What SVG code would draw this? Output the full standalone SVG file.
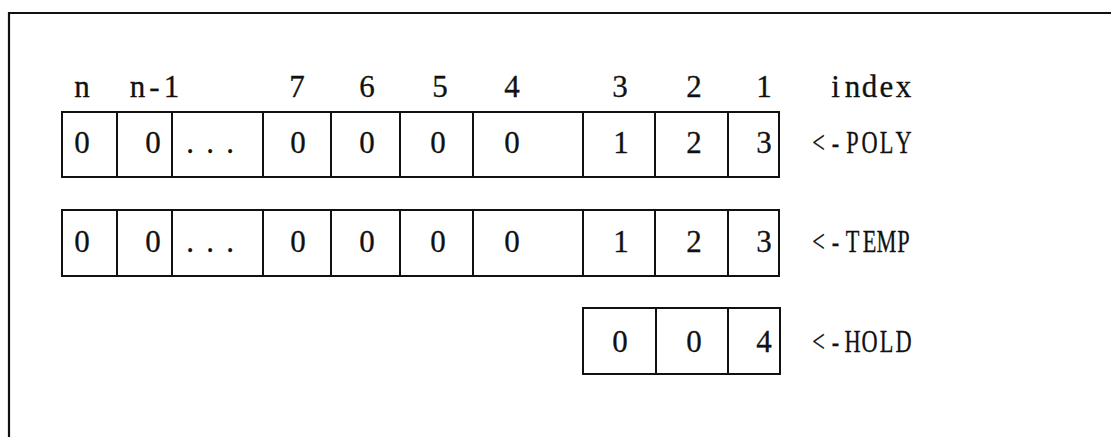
<svg xmlns="http://www.w3.org/2000/svg" width="1111" height="437" viewBox="0 0 1111 437">
<style>
.frame{fill:none;stroke:#111;stroke-width:2.2}
.cell{fill:none;stroke:#111;stroke-width:2}
.t{font-family:"Liberation Serif","Times New Roman",serif;font-size:31px;fill:#111;text-anchor:middle;stroke:#111;stroke-width:0.3}
</style>
<rect width="1111" height="437" fill="#fff"/>
<g id="frame">
<path class="frame" d="M9,437 L9,13 L1111,13"/>
</g>
<g id="index-row">
<text class="t" x="82" y="97">n</text>
<text class="t" x="137.5 154.5 171.5" y="97">n-1</text>
<text class="t" x="297" y="97">7</text>
<text class="t" x="367" y="97">6</text>
<text class="t" x="440" y="97">5</text>
<text class="t" x="512" y="97">4</text>
<text class="t" x="620" y="97">3</text>
<text class="t" x="694" y="97">2</text>
<text class="t" x="764" y="97">1</text>
<text class="t" x="835.5 852.5 869.5 886.5 903.5" y="97">index</text>
</g>
<g id="poly">
<rect class="cell" x="62" y="112" width="717" height="65"/>
<path class="cell" d="M117,112V177M172,112V177M263,112V177M331,112V177M400,112V177M473,112V177M583,112V177M655,112V177M728,112V177"/>
<text class="t" x="82" y="153">0</text>
<text class="t" x="153" y="153">0</text>
<text class="t" x="190 210 230" y="153">...</text>
<text class="t" x="298" y="153">0</text>
<text class="t" x="367" y="153">0</text>
<text class="t" x="438" y="153">0</text>
<text class="t" x="512" y="153">0</text>
<text class="t" x="621" y="153">1</text>
<text class="t" x="694" y="153">2</text>
<text class="t" x="764" y="153">3</text>
<text class="t" transform="scale(0.72,1)" x="1136.8 1160.4 1184 1207.6 1231.3 1254.9" y="153">&lt;-POLY</text>
</g>
<g id="temp">
<rect class="cell" x="62" y="210" width="717" height="66"/>
<path class="cell" d="M117,210V276M172,210V276M263,210V276M331,210V276M400,210V276M473,210V276M583,210V276M655,210V276M728,210V276"/>
<text class="t" x="82" y="252">0</text>
<text class="t" x="153" y="252">0</text>
<text class="t" x="190 210 230" y="252">...</text>
<text class="t" x="298" y="252">0</text>
<text class="t" x="367" y="252">0</text>
<text class="t" x="438" y="252">0</text>
<text class="t" x="512" y="252">0</text>
<text class="t" x="621" y="252">1</text>
<text class="t" x="694" y="252">2</text>
<text class="t" x="764" y="252">3</text>
<text class="t" transform="scale(0.72,1)" x="1136.8 1160.4 1184 1207.6 1231.3 1254.9" y="252">&lt;-TEMP</text>
</g>
<g id="hold">
<rect class="cell" x="583" y="308" width="197" height="66"/>
<path class="cell" d="M656,308V374M728,308V374"/>
<text class="t" x="620" y="352">0</text>
<text class="t" x="694" y="352">0</text>
<text class="t" x="764" y="352">4</text>
<text class="t" transform="scale(0.72,1)" x="1136.8 1160.4 1184 1207.6 1231.3 1254.9" y="352">&lt;-HOLD</text>
</g>
</svg>
